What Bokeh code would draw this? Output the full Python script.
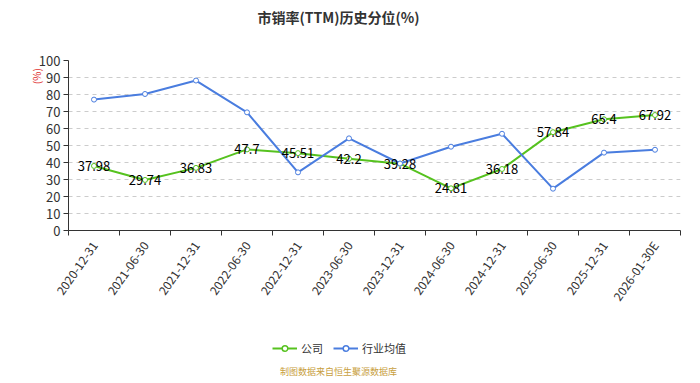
import math
from bokeh.plotting import figure
from bokeh.layouts import column
from bokeh.models import (FixedTicker, Legend, LegendItem, ColumnDataSource,
                          Range1d, LabelSet, Label)
from bokeh.core.properties import value
from bokeh.embed import file_html
from bokeh.resources import INLINE

title = "市销率(TTM)历史分位(%)"
dates = ["2020-12-31", "2021-06-30", "2021-12-31", "2022-06-30", "2022-12-31",
         "2023-06-30", "2023-12-31", "2024-06-30", "2024-12-31", "2025-06-30",
         "2025-12-31", "2026-01-30E"]
company = [37.98, 29.74, 36.83, 47.7, 45.51, 42.2, 39.28, 24.81, 36.18, 57.84, 65.4, 67.92]
industry = [77.0, 80.3, 88.2, 69.5, 34.2, 54.2, 39.4, 49.3, 56.9, 24.6, 45.8, 47.5]
y_ticks = list(range(0, 101, 10))
series_names = ["公司", "行业均值"]
source_note = "制图数据来自恒生聚源数据库"
unit_label = "(%)"

GREEN = "#56c21f"
BLUE = "#4a7ddf"
FONT = "Noto Sans CJK SC"
L, R = 68, 20

xs = list(range(len(dates)))
src = ColumnDataSource(dict(x=xs, c=company, i=industry,
                            lab=[str(v) for v in company]))

# header figure: title
h = figure(width=700, height=30, output_backend="svg", toolbar_location=None,
           x_range=Range1d(L, 700 - R), y_range=Range1d(30, 0),
           x_axis_type=None, y_axis_type=None, min_border_left=L, min_border_right=R,
           min_border_top=0, min_border_bottom=0)
h.outline_line_color = None
h.grid.visible = False
h.add_layout(Label(x=338, y=16, text=title, text_align="center", text_baseline="middle",
                   text_font=FONT, text_font_size="14px", text_font_style="bold",
                   text_color="#333333"))

p = figure(width=700, height=295, output_backend="svg", toolbar_location=None,
           x_range=Range1d(-0.5, len(dates) - 0.5), y_range=Range1d(0, 100),
           min_border_left=L, min_border_right=R, min_border_top=30,
           min_border_bottom=95)
p.outline_line_color = None
p.background_fill_color = "white"
p.border_fill_color = "white"

# axes
p.xaxis.ticker = FixedTicker(ticks=xs, minor_ticks=[k - 0.5 for k in range(len(dates) + 1)])
p.xaxis.major_label_overrides = {k: d for k, d in zip(xs, dates)}
p.xaxis.major_label_orientation = math.radians(55)
p.xaxis.major_tick_line_color = None
p.xaxis.minor_tick_out = 5
p.xaxis.minor_tick_in = 0
p.xaxis.minor_tick_line_color = "#333333"
p.xaxis.axis_line_color = "#333333"
p.xaxis.major_label_text_font = FONT
p.xaxis.major_label_text_font_size = "12px"
p.xaxis.major_label_text_color = "#333333"
p.xaxis.major_label_standoff = 6

p.yaxis.ticker = FixedTicker(ticks=y_ticks)
p.yaxis.minor_tick_line_color = None
p.yaxis.major_tick_out = 5
p.yaxis.major_tick_in = 0
p.yaxis.major_tick_line_color = "#333333"
p.yaxis.axis_line_color = "#333333"
p.yaxis.major_label_text_font = FONT
p.yaxis.major_label_text_font_size = "13px"
p.yaxis.major_label_text_color = "#333333"
p.yaxis.major_label_standoff = 3
p.yaxis.axis_label = unit_label + "\u00a0" * 14
p.yaxis.axis_label_text_font = FONT
p.yaxis.axis_label_text_font_size = "10px"
p.yaxis.axis_label_text_font_style = "normal"
p.yaxis.axis_label_text_color = "#e03030"
p.yaxis.axis_label_standoff = -8
try:
    p.yaxis.axis_label_align = "end"
except Exception:
    pass
try:
    p.yaxis.axis_label_orientation = "parallel"
except Exception:
    pass

p.xgrid.grid_line_color = None
p.ygrid.grid_line_color = "#cccccc"
p.ygrid.grid_line_dash = "4 4"
p.ygrid.grid_line_width = 1

# series
gl = p.line("x", "c", source=src, line_color=GREEN, line_width=2)
gs = p.scatter("x", "c", source=src, size=5, fill_color="white", line_color=GREEN, line_width=1)
bl = p.line("x", "i", source=src, line_color=BLUE, line_width=2)
bs = p.scatter("x", "i", source=src, size=5, fill_color="white", line_color=BLUE, line_width=1)

labels = LabelSet(x="x", y="c", text="lab", source=src, text_align="center",
                  text_baseline="middle", text_font=value(FONT), text_font_size="13px",
                  text_color="#000000")
p.add_layout(labels)

# footer figure: legend and source note
f = figure(width=700, height=58, output_backend="svg", toolbar_location=None,
           x_range=Range1d(L, 700 - R), y_range=Range1d(58, 0),
           x_axis_type=None, y_axis_type=None, min_border_left=L, min_border_right=R,
           min_border_top=0, min_border_bottom=0)
f.outline_line_color = None
f.grid.visible = False
off = ColumnDataSource(dict(x=[-1000], y=[-1000]))
fgl = f.line("x", "y", source=off, line_color=GREEN, line_width=2)
fgs = f.scatter("x", "y", source=off, size=9, fill_color="white", line_color=GREEN, line_width=1.5)
fbl = f.line("x", "y", source=off, line_color=BLUE, line_width=2)
fbs = f.scatter("x", "y", source=off, size=9, fill_color="white", line_color=BLUE, line_width=1.5)

legend = Legend(items=[LegendItem(label=series_names[0], renderers=[fgl, fgs]),
                       LegendItem(label=series_names[1], renderers=[fbl, fbs])],
                orientation="horizontal", location=(272 - L, 27),
                background_fill_alpha=0, border_line_color=None,
                label_text_font=FONT, label_text_font_size="11px", label_text_color="#333333",
                glyph_width=25, glyph_height=14, spacing=10, label_standoff=4, padding=0,
                margin=0)
f.add_layout(legend, "center")

f.add_layout(Label(x=338, y=46, text=source_note, text_align="center", text_baseline="middle",
                   text_font=FONT, text_font_size="9px", text_color="#c8a040"))

layout = column(h, p, f, spacing=0)
open("out.html", "w").write(file_html(layout, INLINE))
